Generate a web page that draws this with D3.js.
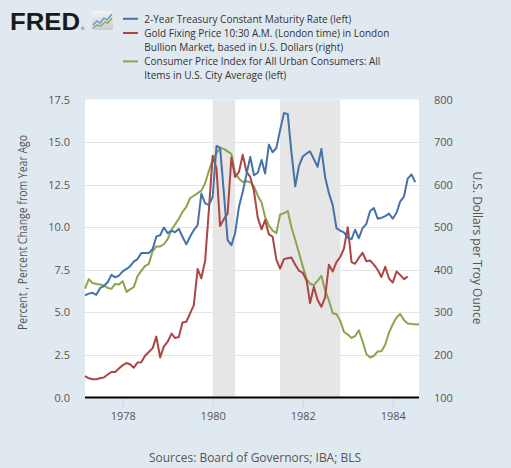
<!DOCTYPE html>
<html><head><meta charset="utf-8">
<script src="https://cdn.jsdelivr.net/npm/d3@7"></script>
<style>
html,body{margin:0;padding:0;background:#e1e9f0;}
svg{display:block;font-family:"Open Sans",sans-serif;}
</style>
</head><body>
<svg id="chart" width="511" height="468"></svg>
<script>
// ---- data (monthly, starting March 1977) ----
const startYear = 1977, startMonthIndex = 2; // March 1977
const treasury2y = [6.00,6.10,6.15,6.03,6.42,6.54,6.77,7.20,7.06,7.16,
  7.41,7.55,7.70,7.98,8.13,8.48,8.48,8.48,8.72,9.46,
  9.53,9.98,9.65,9.80,9.70,9.90,9.44,8.99,9.44,9.83,
  10.12,11.98,11.40,11.30,11.79,14.77,14.67,12.00,9.24,8.95,
  9.65,11.20,12.08,13.10,14.13,13.05,13.20,13.95,13.15,14.85,
  14.40,14.65,15.70,16.70,16.65,14.40,12.40,13.60,14.15,14.33,
  14.45,14.00,13.55,14.60,12.95,12.00,11.30,9.95,9.80,9.70,
  9.38,9.30,9.85,9.35,9.95,10.20,10.95,11.12,10.50,10.55,
  10.65,10.80,10.50,10.85,11.50,11.80,12.85,13.10,12.65];
const goldPrice = [150,145,143,143,145,147,154,160,160,168,
  176,181,178,170,182,183,198,207,216,243,
  194,220,231,250,240,242,276,278,297,317,
  402,380,422,540,668,638,503,519,532,664,
  618,630,670,631,618,585,522,495,517,483,
  478,424,403,425,427,429,412,398,393,375,
  322,360,329,313,335,412,396,418,430,450,
  500,418,414,428,440,420,422,412,400,383,
  407,380,370,396,388,378,384];
const cpiYoY = [6.40,6.95,6.72,6.67,6.63,6.58,6.43,6.38,6.67,6.63,
  6.83,6.20,6.35,6.48,7.12,7.45,7.72,7.85,8.60,8.87,
  8.87,9.00,9.30,9.85,10.15,10.50,10.90,11.20,11.70,11.85,
  12.00,12.15,12.60,13.30,13.95,14.35,14.65,14.60,14.45,14.30,
  13.15,12.85,12.65,12.70,12.65,12.40,11.85,11.45,10.60,10.10,
  9.80,9.65,10.75,10.82,10.95,10.00,9.25,8.50,7.70,6.95,
  6.68,6.60,6.85,7.15,6.30,5.70,4.95,4.90,4.50,3.85,
  3.70,3.50,3.60,3.95,3.30,2.55,2.35,2.45,2.70,2.72,
  3.10,3.80,4.30,4.70,4.90,4.55,4.35,4.32,4.30,4.28];
const leftTicks = [0,2.5,5,7.5,10,12.5,15,17.5];
const rightTicks = [100,200,300,400,500,600,700,800];
const xTickYears = [1978,1980,1982,1984];
const recessions = [[1980,0,1980,6],[1981,6,1982,10]];
const legendLines = [
  "2-Year Treasury Constant Maturity Rate (left)",
  "Gold Fixing Price 10:30 A.M. (London time) in London",
  "Bullion Market, based in U.S. Dollars (right)",
  "Consumer Price Index for All Urban Consumers: All",
  "Items in U.S. City Average (left)"];
const leftTitle = "Percent , Percent Change from Year Ago";
const rightTitle = "U.S. Dollars per Troy Ounce";
const sourceText = "Sources: Board of Governors; IBA; BLS";
const colors = {blue:"#4572a7", red:"#aa4643", green:"#89a54e"};

// ---- layout ----
const svg = d3.select("#chart");
const L = 85, R = 419, T = 99.5, B = 397.5;
const x = d3.scaleTime().domain([new Date(1977,2,1), new Date(1984,7,1)]).range([L,R]);
const yL = d3.scaleLinear().domain([0,17.5]).range([B,T]);
const yR = d3.scaleLinear().domain([100,800]).range([B,T]);
const dateOf = i => d3.timeMonth.offset(new Date(startYear,startMonthIndex,1), i);

svg.append("rect").attr("width",511).attr("height",468).attr("fill","#e1e9f0");
svg.append("rect").attr("x",L).attr("y",T).attr("width",R-L).attr("height",B-T).attr("fill","#ffffff");

// gridlines
svg.append("g").selectAll("line").data(leftTicks.filter(d=>d>0 && d<17.5)).join("line")
  .attr("x1",L).attr("x2",R).attr("y1",d=>Math.round(yL(d))+0.5).attr("y2",d=>Math.round(yL(d))+0.5)
  .attr("stroke","#e3e3e3").attr("stroke-width",1);

// recessions
svg.append("g").selectAll("rect").data(recessions).join("rect")
  .attr("x",d=>x(new Date(d[0],d[1],1)))
  .attr("width",d=>x(new Date(d[2],d[3],1))-x(new Date(d[0],d[1],1)))
  .attr("y",T).attr("height",B-T).attr("fill","#e6e6e6");

// x axis ticks
const xAxis = d3.axisBottom(x).tickValues(xTickYears.map(yr=>new Date(yr,0,1)))
  .tickFormat(d3.timeFormat("%Y")).tickSize(10).tickPadding(5);
const gx = svg.append("g").attr("transform",`translate(0,${B})`).call(xAxis);
gx.select(".domain").remove();
gx.selectAll(".tick line").attr("stroke","#ccd6eb");
gx.selectAll(".tick text").attr("fill","#555").attr("font-size","11px").attr("font-family","Open Sans");

// baseline
svg.append("line").attr("x1",L).attr("x2",R).attr("y1",B).attr("y2",B).attr("stroke","#000").attr("stroke-width",2);

// left axis
const gyl = svg.append("g").attr("transform",`translate(${L},0)`)
  .call(d3.axisLeft(yL).tickValues(leftTicks).tickFormat(d3.format(".1f")).tickSize(0).tickPadding(15));
gyl.select(".domain").remove();
gyl.selectAll(".tick text").attr("fill","#555").attr("font-size","11px").attr("font-family","Open Sans");

// right axis
const gyr = svg.append("g").attr("transform",`translate(${R},0)`)
  .call(d3.axisRight(yR).tickValues(rightTicks).tickFormat(d3.format("d")).tickSize(0).tickPadding(15));
gyr.select(".domain").remove();
gyr.selectAll(".tick text").attr("fill","#555").attr("font-size","11px").attr("font-family","Open Sans");

// series
const lineL = d3.line().x((d,i)=>x(dateOf(i))).y(d=>yL(d));
const lineR = d3.line().x((d,i)=>x(dateOf(i))).y(d=>yR(d));
const plot = svg.append("g");
plot.append("path").datum(cpiYoY).attr("d",lineL).attr("fill","none").attr("stroke",colors.green).attr("stroke-width",2).attr("stroke-linejoin","round");
plot.append("path").datum(goldPrice).attr("d",lineR).attr("fill","none").attr("stroke",colors.red).attr("stroke-width",2).attr("stroke-linejoin","round");
plot.append("path").datum(treasury2y).attr("d",lineL).attr("fill","none").attr("stroke",colors.blue).attr("stroke-width",2).attr("stroke-linejoin","round");

// axis titles
svg.append("text").attr("transform","translate(26.5,232.5) rotate(-90)").attr("text-anchor","middle")
  .attr("font-size","12px").attr("fill","#555").attr("textLength",195).attr("lengthAdjust","spacingAndGlyphs").text(leftTitle);
svg.append("text").attr("transform","translate(472.5,248) rotate(90)").attr("text-anchor","middle")
  .attr("font-size","12px").attr("fill","#555").attr("textLength",153).attr("lengthAdjust","spacingAndGlyphs").text(rightTitle);

// source
svg.append("text").attr("x",255).attr("y",462).attr("text-anchor","middle").attr("font-size","12px")
  .attr("fill","#555").attr("textLength",212).attr("lengthAdjust","spacingAndGlyphs").text(sourceText);

// legend
const legendWidths = [207,245,199,236,142];
const legendY0 = 22.5, legendStep = 14.2;
svg.append("g").selectAll("text").data(legendLines).join("text")
  .attr("x",144.3).attr("y",(d,i)=>legendY0+i*legendStep)
  .attr("font-size","10.4px").attr("fill","#333")
  .attr("textLength",(d,i)=>legendWidths[i]).attr("lengthAdjust","spacingAndGlyphs").text(d=>d);
const legendMarks = [{c:colors.blue,row:0},{c:colors.red,row:1},{c:colors.green,row:3}];
svg.append("g").selectAll("line").data(legendMarks).join("line")
  .attr("x1",123).attr("x2",138).attr("y1",d=>legendY0-3.7+d.row*legendStep).attr("y2",d=>legendY0-3.7+d.row*legendStep)
  .attr("stroke",d=>d.c).attr("stroke-width",2);

// FRED logo
svg.append("text").attr("x",10).attr("y",29.5).attr("font-family","Liberation Sans, Arial, sans-serif")
  .attr("font-weight","bold").attr("font-size","24px").attr("fill","#1a1a1a")
  .attr("textLength",70).attr("lengthAdjust","spacingAndGlyphs").text("FRED");
svg.append("text").attr("x",81).attr("y",30).attr("font-size","4px").attr("fill","#1a1a1a").text("®");
const defs = svg.append("defs");
const grad = defs.append("linearGradient").attr("id","ig").attr("x1",0).attr("y1",0).attr("x2",0).attr("y2",1);
grad.append("stop").attr("offset","0%").attr("stop-color","#f4f4f4");
grad.append("stop").attr("offset","100%").attr("stop-color","#c9ccd0");
const icon = svg.append("g").attr("transform","translate(92,11)");
icon.append("rect").attr("width",21).attr("height",19).attr("rx",2).attr("fill","url(#ig)");
icon.append("polyline").attr("points","1,14 5,10 8,12 12,7 15,9 20,3").attr("fill","none").attr("stroke","#6a9ad0").attr("stroke-width",1.5);
icon.append("polyline").attr("points","1,17 5,14 9,15 13,11 16,12 20,7").attr("fill","none").attr("stroke","#8ab04e").attr("stroke-width",1.5);
</script>
</body></html>
